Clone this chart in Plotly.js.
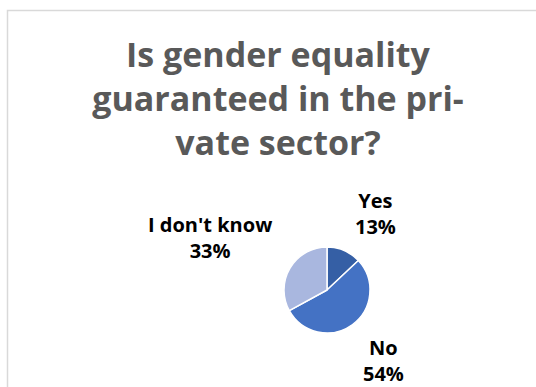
<!DOCTYPE html>
<html>
<head>
<meta charset="utf-8">
<script src="https://cdn.plot.ly/plotly-3.0.1.min.js"></script>
<style>html,body{margin:0;padding:0;background:#fff;}#chart{width:536px;height:387px;}</style>
</head>
<body>
<div id="chart"></div>
<script>
const categories = ["Yes", "No", "I don't know"];
const percentages = [13, 54, 33];
const sliceColors = ["#355FA5", "#4472C4", "#A9B7DF"];
const titleText = "Is gender equality<br>guaranteed in the pri-<br>vate sector?";

// label anchor positions (paper coords) for each category
const labelPos = [
  {x: 375/536, y: 1 - 213/387},
  {x: 383/536, y: 1 - 360/387},
  {x: 210/536, y: 1 - 238/387}
];

const trace = {
  type: "pie",
  labels: categories,
  values: percentages,
  sort: false,
  direction: "clockwise",
  rotation: 0,
  marker: {colors: sliceColors, line: {color: "#ffffff", width: 1.5}},
  textinfo: "none",
  hoverinfo: "label+percent",
  domain: {x: [284/536, 370/536], y: [1 - 333/387, 1 - 247/387]},
  showlegend: false
};

const annotations = categories.map((c, i) => ({
  xref: "paper", yref: "paper",
  x: labelPos[i].x, y: labelPos[i].y,
  xanchor: "center", yanchor: "middle",
  text: c + "<br>" + percentages[i] + "%",
  showarrow: false,
  align: "center",
  font: {family: "Open Sans, sans-serif", size: 20, color: "#000000", weight: "bold"}
}));

const layout = {
  width: 536, height: 387,
  margin: {l: 0, r: 0, t: 0, b: 0},
  paper_bgcolor: "#ffffff",
  title: {
    text: titleText,
    x: 278/536, xanchor: "center",
    y: 1 - 67/387, yanchor: "top", yref: "container",
    font: {family: "Open Sans, sans-serif", size: 34, color: "#595959", weight: "bold"}
  },
  annotations: annotations,
  shapes: [{
    type: "rect", xref: "paper", yref: "paper",
    x0: 7.5/536, x1: 1.05, y0: -0.05, y1: 1 - 10.5/387,
    line: {color: "#d9d9d9", width: 1.5}
  }]
};

Plotly.newPlot("chart", [trace], layout, {staticPlot: true});
</script>
</body>
</html>
